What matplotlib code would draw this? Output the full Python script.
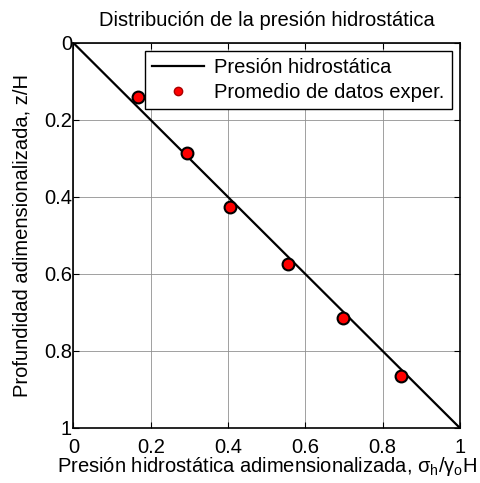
import matplotlib
matplotlib.use("Agg")
import matplotlib.pyplot as plt
from matplotlib.lines import Line2D

plt.rcParams['font.family'] = ['Liberation Sans', 'DejaVu Sans']
plt.rcParams['mathtext.fontset'] = 'custom'
plt.rcParams['mathtext.rm'] = 'Liberation Sans'
plt.rcParams['mathtext.it'] = 'Liberation Sans'

# linea hidrostatica
linea_x = [0, 1]
linea_z = [0, 1]

# promedio de datos experimentales
exp_x = [0.168, 0.294, 0.405, 0.555, 0.697, 0.847]
exp_z = [0.141, 0.286, 0.427, 0.573, 0.714, 0.864]

ticks = [0, 0.2, 0.4, 0.6, 0.8, 1]
tick_labels = ['0', '0.2', '0.4', '0.6', '0.8', '1']

fs = 14.5

fig = plt.figure(figsize=(4.8, 4.83), dpi=100)
ax = fig.add_axes([0.153, 0.114, 0.805, 0.797])

ax.plot(linea_x, linea_z, color='black', linewidth=1.6)
ax.plot(exp_x, exp_z, linestyle='none', marker='o', markersize=8.5,
        markerfacecolor='red', markeredgecolor='black', markeredgewidth=1.5)

ax.set_xlim(0, 1)
ax.set_ylim(1, 0)
ax.set_xticks(ticks)
ax.set_xticklabels(tick_labels)
ax.set_yticks(ticks)
ax.set_yticklabels(tick_labels)
ax.tick_params(direction='in', top=True, right=True, labelsize=fs, length=4)
ax.tick_params(axis='x', pad=7)
ax.tick_params(axis='y', pad=1)
ax.grid(True, color='#909090', linewidth=0.6, linestyle='-')
for s in ax.spines.values():
    s.set_linewidth(1.2)

ax.set_title('Distribución de la presión hidrostática', fontsize=fs, pad=12)
ax.set_xlabel(r'Presión hidrostática adimensionalizada, $\sigma_h/\gamma_o$H', fontsize=fs, labelpad=-1)
ax.set_ylabel('Profundidad adimensionalizada, z/H', fontsize=fs, labelpad=9)

handles = [Line2D([], [], color='black', linewidth=1.6),
           Line2D([], [], linestyle='none', marker='o', markersize=6,
                  markerfacecolor='red', markeredgecolor='#aa0000')]
leg = ax.legend(handles, ['Presión hidrostática', 'Promedio de datos exper.'],
                loc='upper right', fontsize=fs, fancybox=False, framealpha=1,
                edgecolor='black', borderaxespad=0.4, handlelength=2.6,
                handletextpad=0.5, labelspacing=0.3, borderpad=0.35)
leg.get_frame().set_linewidth(1.0)

fig.savefig('out.png', dpi=100)
